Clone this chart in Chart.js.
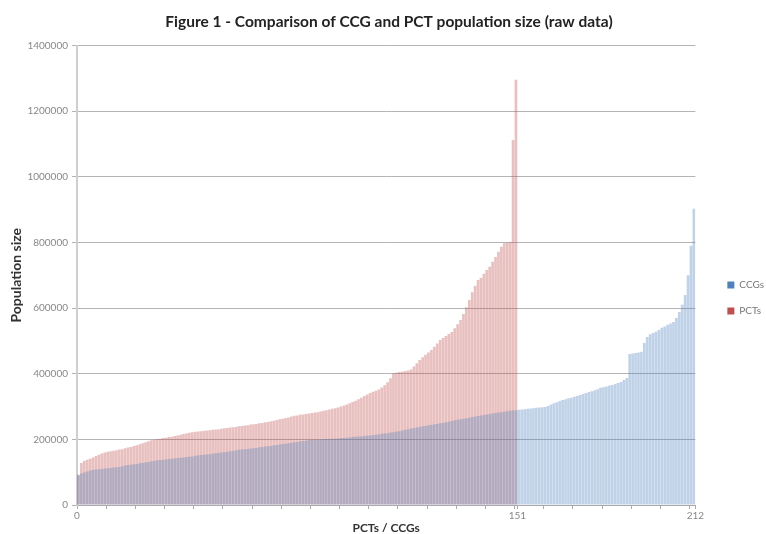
<!DOCTYPE html>
<html>
<head>
<meta charset="utf-8">
<script src="https://cdn.jsdelivr.net/npm/chart.js"></script>
<style>
    body { margin: 0; padding: 0; background: #fff; }
    #wrap { width: 766px; height: 534px; position: relative; }
</style>
</head>
<body>
<div id="wrap"><canvas id="myChart"></canvas></div>
<script>
    // population per PCT, sorted ascending (151 PCTs)
    const pctValues = [
        92000, 128000, 135000, 138000, 141000, 145000, 149000, 153000, 157000, 160000,
        162000, 164000, 165000, 167000, 169000, 170000, 173000, 175000, 177000, 180000,
        182000, 185000, 188000, 191000, 194000, 197000, 199000, 201000, 202000, 204000,
        205000, 207000, 208000, 210000, 212000, 214000, 216000, 218000, 220000, 222000,
        223000, 224000, 225000, 226000, 227000, 228000, 229000, 230000, 231000, 232000,
        234000, 235000, 236000, 237000, 238000, 240000, 241000, 242000, 243000, 245000,
        246000, 247000, 249000, 250000, 252000, 253000, 255000, 257000, 259000, 261000,
        263000, 265000, 267000, 270000, 272000, 273000, 275000, 276000, 277000, 279000,
        280000, 282000, 283000, 285000, 287000, 289000, 291000, 293000, 295000, 297000,
        300000, 303000, 306000, 310000, 314000, 318000, 322000, 327000, 332000, 337000,
        341000, 345000, 348000, 352000, 358000, 365000, 374000, 386000, 401000, 403000,
        405000, 406000, 408000, 410000, 413000, 422000, 432000, 442000, 450000, 458000,
        465000, 472000, 482000, 492000, 503000, 509000, 515000, 521000, 527000, 539000,
        551000, 564000, 582000, 603000, 625000, 648000, 668000, 686000, 692000, 705000,
        716000, 726000, 741000, 756000, 772000, 787000, 798000, 799000, 801000, 1112000,
        1296000
    ];

    // population per CCG, sorted ascending (212 CCGs)
    const ccgValues = [
        91000, 96000, 99000, 102000, 105000, 107000, 108000, 109000, 110000, 111000,
        112000, 113000, 114000, 115000, 116000, 118000, 120000, 122000, 123000, 124000,
        125000, 127000, 128000, 130000, 131000, 133000, 134000, 136000, 137000, 138000,
        139000, 140000, 141000, 142000, 143000, 144000, 145000, 146000, 147000, 148000,
        150000, 151000, 152000, 153000, 154000, 155000, 156000, 158000, 159000, 160000,
        161000, 162000, 164000, 165000, 166000, 168000, 169000, 170000, 171000, 172000,
        173000, 174000, 176000, 177000, 178000, 179000, 180000, 182000, 183000, 184000,
        186000, 187000, 188000, 190000, 191000, 192000, 194000, 195000, 196000, 198000,
        198000, 199000, 199000, 200000, 200000, 201000, 201000, 202000, 202000, 203000,
        204000, 204000, 205000, 206000, 207000, 208000, 209000, 209000, 210000, 211000,
        212000, 213000, 214000, 215000, 217000, 218000, 219000, 221000, 222000, 224000,
        225000, 227000, 229000, 231000, 233000, 235000, 236000, 238000, 240000, 241000,
        243000, 244000, 246000, 247000, 249000, 250000, 252000, 254000, 256000, 258000,
        260000, 261000, 263000, 264000, 266000, 268000, 270000, 271000, 273000, 274000,
        276000, 277000, 279000, 280000, 282000, 283000, 284000, 286000, 287000, 288000,
        289000, 290000, 291000, 292000, 293000, 294000, 295000, 296000, 297000, 298000,
        299000, 302000, 306000, 310000, 313000, 317000, 320000, 322000, 325000, 327000,
        330000, 332000, 335000, 338000, 341000, 344000, 347000, 350000, 353000, 357000,
        359000, 361000, 364000, 366000, 369000, 372000, 375000, 381000, 387000, 460000,
        462000, 463000, 465000, 467000, 494000, 512000, 520000, 524000, 528000, 533000,
        540000, 544000, 549000, 553000, 558000, 570000, 588000, 610000, 640000, 700000,
        790000, 903000
    ];

    const xLabelValues = [0, 151, 212];
    const xTickMarks = [0, 10, 20, 30, 40, 50, 60, 70, 80, 90, 100, 110, 120, 130, 140, 150, 151,
                        160, 170, 180, 190, 200, 210, 212];
    const yTickValues = [0, 200000, 400000, 600000, 800000, 1000000, 1200000, 1400000];

    // bar i sits in the slot between i and i+1
    function toPoints(values) {
        return values.map(function (v, i) { return { x: i + 0.5, y: v }; });
    }

    const data = {
        datasets: [
            {
                label: 'CCGs',
                data: toPoints(ccgValues),
                backgroundColor: 'rgba(79, 129, 189, 0.36)',
                borderWidth: 0,
                grouped: false,
                barPercentage: 1,
                categoryPercentage: 0.92
            },
            {
                label: 'PCTs',
                data: toPoints(pctValues),
                backgroundColor: 'rgba(192, 80, 77, 0.36)',
                borderWidth: 0,
                grouped: false,
                barPercentage: 1,
                categoryPercentage: 0.92
            }
        ]
    };

    const config = {
        type: 'bar',
        data: data,
        options: {
            responsive: true,
            maintainAspectRatio: false,
            animation: false,
            layout: { padding: { top: 0, left: 4, right: -8, bottom: 0 } },
            plugins: {
                title: {
                    display: true,
                    text: 'Figure 1 - Comparison of CCG and PCT population size (raw data)',
                    color: '#222',
                    font: { family: 'Lato', size: 15.5, weight: 'bold' },
                    padding: { top: 13, bottom: 14 }
                },
                legend: {
                    position: 'right',
                    title: {
                        display: true,
                        text: '',
                        font: { size: 10 },
                        padding: { top: 50, bottom: 0 }
                    },
                    labels: {
                        boxWidth: 7,
                        boxHeight: 7,
                        padding: 16,
                        color: '#777',
                        font: { family: 'Lato', size: 10 },
                        generateLabels: function (chart) {
                            return chart.data.datasets.map(function (ds, i) {
                                return {
                                    text: ds.label,
                                    fillStyle: i === 0 ? 'rgb(79, 129, 189)' : 'rgb(192, 80, 77)',
                                    strokeStyle: 'rgba(0,0,0,0)',
                                    lineWidth: 0,
                                    fontColor: '#777',
                                    datasetIndex: i
                                };
                            });
                        }
                    }
                },
                tooltip: { enabled: false }
            },
            scales: {
                x: {
                    type: 'linear',
                    min: 0,
                    max: 212,
                    offset: false,
                    afterBuildTicks: function (axis) {
                        axis.ticks = xTickMarks.map(function (v) { return { value: v }; });
                    },
                    afterFit: function (axis) { axis.height = 29; },
                    ticks: {
                        autoSkip: false,
                        maxRotation: 0,
                        color: '#888',
                        font: { family: 'Lato', size: 10 },
                        padding: 1,
                        callback: function (v) {
                            return xLabelValues.indexOf(v) >= 0 ? String(v) : '';
                        }
                    },
                    grid: {
                        offset: false,
                        drawOnChartArea: false,
                        drawTicks: true,
                        tickLength: 4,
                        color: '#aaa'
                    },
                    border: { color: '#aaa', width: 1 },
                    title: {
                        display: true,
                        text: 'PCTs / CCGs',
                        color: '#333',
                        font: { family: 'Lato', size: 12, weight: 'bold', lineHeight: 1 },
                        padding: { top: 0, bottom: 0 }
                    }
                },
                y: {
                    min: 0,
                    max: 1400000,
                    afterBuildTicks: function (axis) {
                        axis.ticks = yTickValues.map(function (v) { return { value: v }; });
                    },
                    afterFit: function (axis) { axis.width = 73; },
                    ticks: {
                        color: '#888',
                        font: { family: 'Lato', size: 10 },
                        padding: 4,
                        callback: function (v) { return String(v); }
                    },
                    grid: {
                        color: '#b4b4b4',
                        lineWidth: 1,
                        tickLength: 5
                    },
                    border: { color: '#cfcfcf', width: 2 },
                    title: {
                        display: true,
                        text: 'Population size',
                        color: '#333',
                        font: { family: 'Lato', size: 14, weight: 'bold' },
                        padding: { top: 4, bottom: 0 }
                    }
                },
                // empty right-hand axis, only keeps the gap between plot and legend
                gap: {
                    type: 'linear',
                    position: 'right',
                    display: true,
                    grid: { display: false },
                    ticks: { display: false },
                    border: { display: false },
                    afterFit: function (axis) { axis.width = 16; }
                }
            }
        }
    };

    const myChart = new Chart(document.getElementById('myChart'), config);
</script>
</body>
</html>
